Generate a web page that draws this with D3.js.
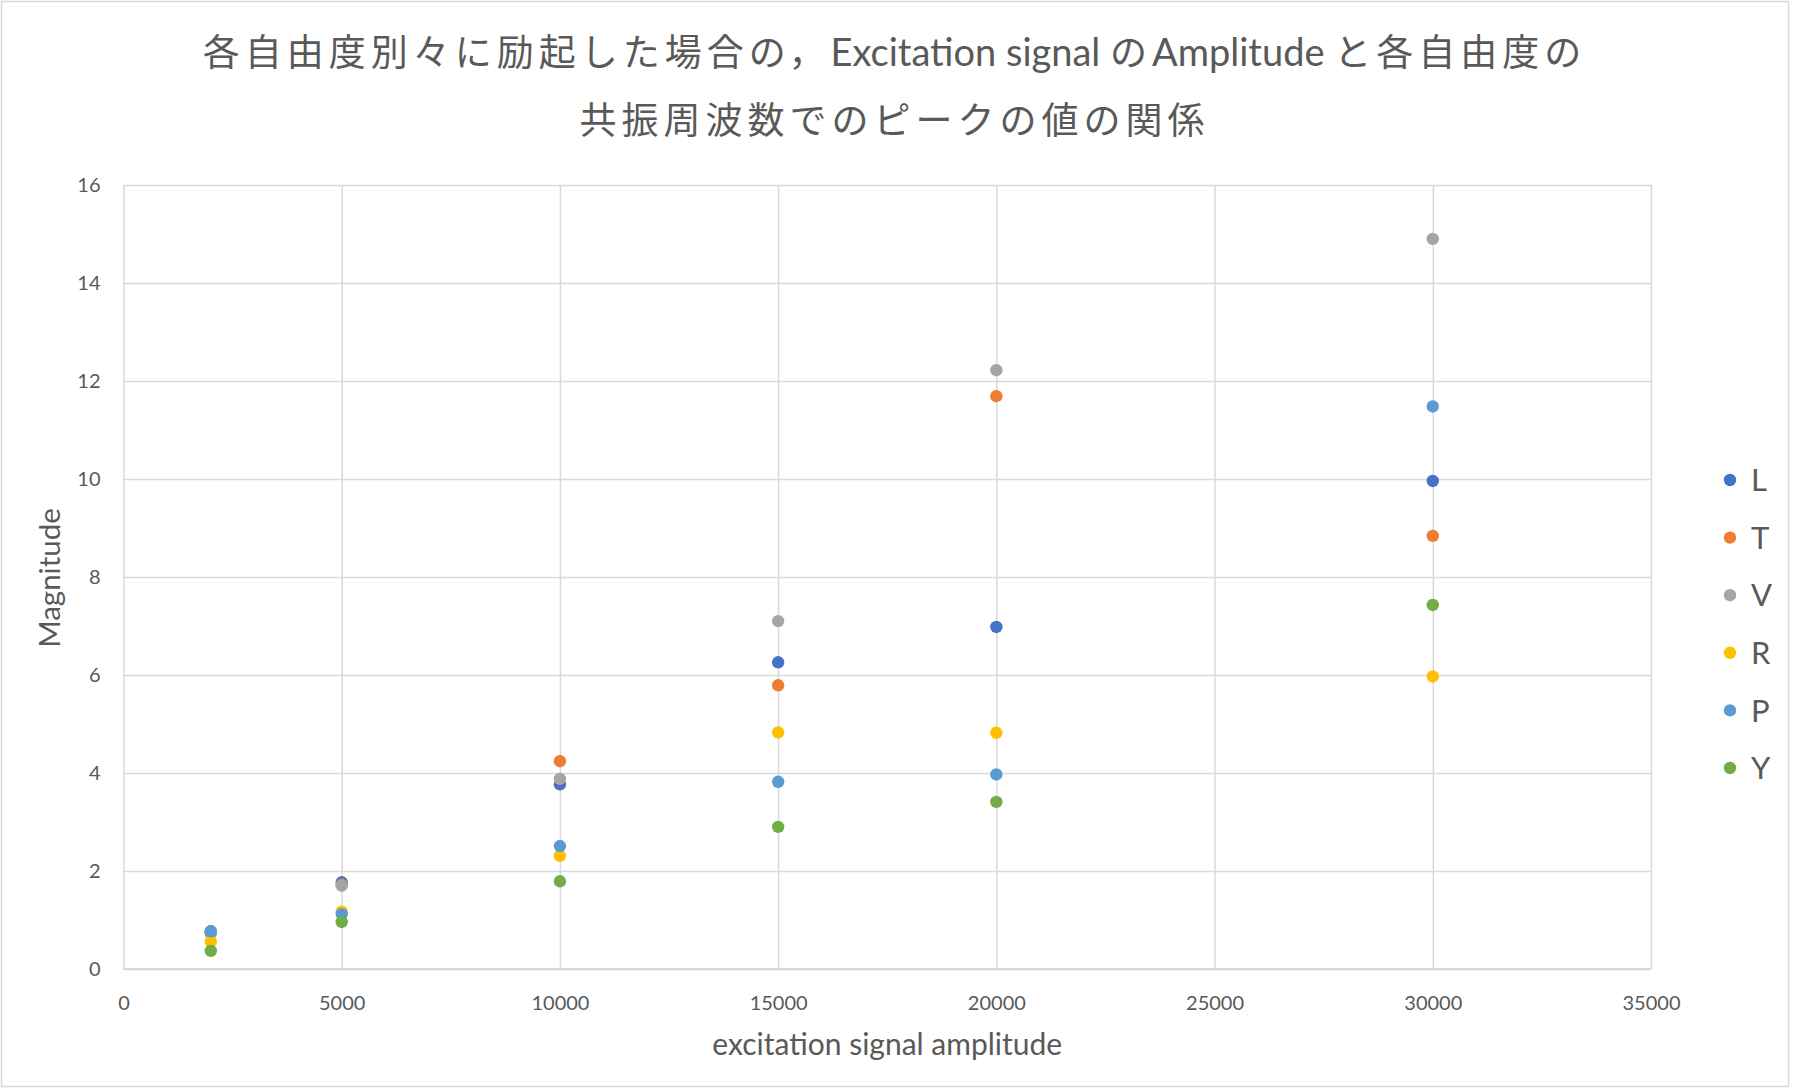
<!DOCTYPE html>
<html>
<head>
<meta charset="utf-8">
<script src="https://cdn.jsdelivr.net/npm/d3@7"></script>
<style>
  body { margin: 0; background: #fff; }
  svg { display: block; }
  text { font-family: Lato, "Noto Sans CJK JP", sans-serif; fill: #595959; }
</style>
</head>
<body>
<svg id="chart" width="1793" height="1089"></svg>
<script>
// excitation amplitudes (x values)
var amplitudes = [2000, 5000, 10000, 15000, 20000, 30000];

// peak magnitude for each degree of freedom
var seriesL = [0.77, 1.77, 3.77, 6.26, 6.98, 9.96];
var seriesT = [0.73, 1.72, 4.24, 5.79, 11.69, 8.84];
var seriesV = [0.75, 1.70, 3.88, 7.10, 12.22, 14.90];
var seriesR = [0.56, 1.17, 2.31, 4.83, 4.82, 5.97];
var seriesP = [0.77, 1.12, 2.51, 3.82, 3.97, 11.48];
var seriesY = [0.37, 0.96, 1.79, 2.90, 3.41, 7.43];

var seriesNames = ['L', 'T', 'V', 'R', 'P', 'Y'];
var xTicks = [0, 5000, 10000, 15000, 20000, 25000, 30000, 35000];
var yTicks = [0, 2, 4, 6, 8, 10, 12, 14, 16];

var colors = ['#4472C4', '#ED7D31', '#A5A5A5', '#FFC000', '#5B9BD5', '#70AD47'];

// title pieces: [text, is CJK]
var titleLine1 = [
    ['各自由度別々に励起した場合の，', true],
    ['Excitation signal ', false],
    ['の', true],
    ['Amplitude ', false],
    ['と各自由度の', true]
];
var titleLine2 = [['共振周波数でのピークの値の関係', true]];

var allSeries = [seriesL, seriesT, seriesV, seriesR, seriesP, seriesY].map(function(vals, i) {
    return {
        name: seriesNames[i],
        color: colors[i],
        points: vals.map(function(v, j) { return {x: amplitudes[j], y: v}; })
    };
});

var svg = d3.select('#chart');
var svgWidth = +svg.attr('width');
var svgHeight = +svg.attr('height');

// chart frame
svg.append('rect')
    .attr('x', 1.5).attr('y', 1.5)
    .attr('width', svgWidth - 6).attr('height', svgHeight - 4)
    .attr('fill', '#fff')
    .attr('stroke', '#D9D9D9')
    .attr('stroke-width', 1.5);

var plot = {l: 123.5, r: 1651, t: 185, b: 969};

var xScale = d3.scaleLinear().domain([0, 35000]).range([plot.l, plot.r]);
var yScale = d3.scaleLinear().domain([0, 16]).range([plot.b, plot.t]);

// gridlines
var yAxis = d3.axisLeft(yScale)
    .tickValues(yTicks)
    .tickSize(-(plot.r - plot.l))
    .tickPadding(23)
    .tickFormat(d3.format('d'));

var xAxis = d3.axisBottom(xScale)
    .tickValues(xTicks)
    .tickSize(-(plot.b - plot.t))
    .tickPadding(27)
    .tickFormat(d3.format('d'));

var gy = svg.append('g')
    .attr('transform', 'translate(' + plot.l + ',0)')
    .call(yAxis);

var gx = svg.append('g')
    .attr('transform', 'translate(0,' + plot.b + ')')
    .call(xAxis);

[gx, gy].forEach(function(g) {
    g.select('.domain').remove();
    g.selectAll('line').attr('stroke', '#D9D9D9').attr('stroke-width', 1.5);
    g.selectAll('text')
        .style('font-size', '20px')
        .attr('fill', '#595959');
});

// axis line on top of grid
svg.append('line')
    .attr('x1', plot.l).attr('x2', plot.r)
    .attr('y1', plot.b).attr('y2', plot.b)
    .attr('stroke', '#D0D0D0').attr('stroke-width', 1.5);

// axis titles
svg.append('text')
    .attr('x', (plot.l + plot.r) / 2)
    .attr('y', 1055)
    .attr('text-anchor', 'middle')
    .style('font-size', '30px')
    .text('excitation signal amplitude');

svg.append('text')
    .attr('transform', 'translate(60,' + ((plot.t + plot.b) / 2 + 1) + ') rotate(-90)')
    .attr('text-anchor', 'middle')
    .style('font-size', '29.5px')
    .text('Magnitude');

// title
function drawTitleLine(parts, y) {
    var t = svg.append('text')
        .attr('x', svgWidth / 2 - 2)
        .attr('y', y)
        .attr('text-anchor', 'middle');
    t.selectAll('tspan')
        .data(parts)
        .enter()
        .append('tspan')
        .style('font-size', function(d) { return d[1] ? '37px' : '38px'; })
        .style('letter-spacing', function(d) { return d[1] ? '5px' : '0px'; })
        .text(function(d) { return d[0]; });
}
drawTitleLine(titleLine1, 66);
drawTitleLine(titleLine2, 134);

// points
var groups = svg.selectAll('.series')
    .data(allSeries)
    .enter()
    .append('g')
    .attr('class', 'series');

groups.selectAll('circle')
    .data(function(d) { return d.points; })
    .enter()
    .append('circle')
    .attr('cx', function(d) { return xScale(d.x); })
    .attr('cy', function(d) { return yScale(d.y); })
    .attr('r', 6.2)
    .attr('fill', function() { return d3.select(this.parentNode).datum().color; });

// legend
var legend = svg.selectAll('.legend')
    .data(allSeries)
    .enter()
    .append('g')
    .attr('class', 'legend')
    .attr('transform', function(d, i) {
        return 'translate(1730,' + (480 + i * 57.6) + ')';
    });

legend.append('circle')
    .attr('r', 6.2)
    .attr('fill', function(d) { return d.color; });

legend.append('text')
    .attr('x', 21)
    .attr('dy', '0.36em')
    .style('font-size', '31px')
    .text(function(d) { return d.name; });
</script>
</body>
</html>
